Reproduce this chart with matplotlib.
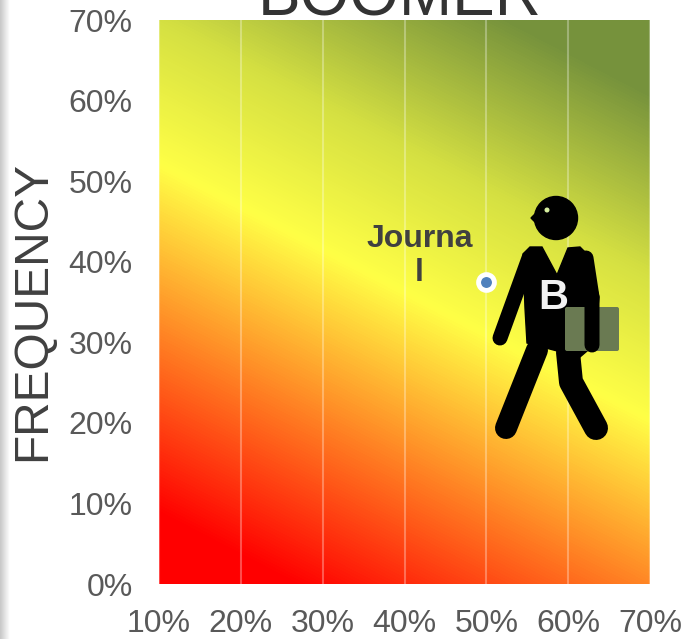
import numpy as np
import matplotlib.pyplot as plt
from matplotlib.colors import LinearSegmentedColormap
from matplotlib.patches import Circle, Polygon, FancyBboxPatch
from matplotlib.lines import Line2D
from matplotlib.transforms import Affine2D

plt.rcParams['font.family'] = ['Liberation Sans', 'DejaVu Sans']

# chart values
x_ticks = [10, 20, 30, 40, 50, 60, 70]
y_ticks = [0, 10, 20, 30, 40, 50, 60, 70]
point_x = [50]
point_y = [37.5]
point_label = "Journa\nl"
title = "BOOMER"
y_title = "FREQUENCY"

W, H = 683, 639
fig = plt.figure(figsize=(W / 100, H / 100), dpi=100)

# grey shadow on the left edge
strip = fig.add_axes([0, 0, 10 / W, 1])
strip.imshow(np.linspace(0.78, 1, 32).reshape(1, -1), aspect='auto', cmap='gray', vmin=0, vmax=1)
strip.axis('off')

ax = fig.add_axes([159 / W, 1 - 584 / H, 491 / W, 564 / H])

# diagonal background, red bottom left to green top right
cmap = LinearSegmentedColormap.from_list('heat', [
    (0.0, '#ff0000'), (0.086, '#ff0000'), (0.512, '#ffff46'),
    (0.69, '#d5e042'), (0.912, '#76923c'), (1.0, '#76923c')])
xx, yy = np.meshgrid(np.arange(491), np.arange(564))
t = (0.52 * xx + (564 - yy)) / (0.52 * 491 + 564)
ax.imshow(t, cmap=cmap, vmin=0, vmax=1, aspect='auto', origin='upper',
          extent=[10, 70, 0, 70], zorder=0)

ax.set_xlim(10, 70)
ax.set_ylim(0, 70)
ax.set_xticks(x_ticks)
ax.set_yticks(y_ticks)
ax.set_xticklabels([f"{v}%" for v in x_ticks])
ax.set_yticklabels([f"{v}%" for v in y_ticks])
ax.tick_params(length=0, labelsize=23, labelcolor='#595959', pad=19, axis='y')
ax.tick_params(length=0, labelsize=23, labelcolor='#595959', pad=18, axis='x')
ax.grid(axis='x', color='white', alpha=0.3, lw=1.5)
ax.set_axisbelow(False)
for s in ax.spines.values():
    s.set_visible(False)

# person, drawn in image pixels
px = Affine2D().scale(1, -1).translate(0, H)


def limb(xs, ys, w, z=3):
    fig.add_artist(Line2D(xs, ys, color='black', lw=w * 0.72, solid_capstyle='round',
                          solid_joinstyle='round', transform=px, zorder=z))


fig.add_artist(Circle((556, 218), 21.5, color='black', transform=px, zorder=3))
fig.add_artist(Polygon([(537, 212), (531, 218), (537, 224)], color='black', transform=px, zorder=3))
fig.add_artist(Circle((547, 210), 1.8, color='#d8f0a0', transform=px, zorder=4))
fig.add_artist(Polygon([(523, 254), (530, 247), (542, 247), (557, 275), (568, 248), (580, 247),
                        (587, 254), (599, 297), (594, 345), (580, 357), (527, 343), (525, 308)],
                       color='black', transform=px, zorder=3))
limb([529, 500], [258, 338], 15)
limb([537, 506], [350, 428], 22)
limb([568, 571, 596], [352, 382, 428], 24)
fig.add_artist(FancyBboxPatch((567, 309), 50, 40, boxstyle='round,pad=2', fc='#6a7a52', ec='none',
                              transform=px, zorder=4))
limb([586, 592, 592], [258, 297, 345], 15, z=5)
fig.text(553, 298, "B", transform=px, fontsize=30, fontweight='bold', color='#f2f2f2',
         ha='center', va='center', zorder=6)

# the single point
ax.scatter(point_x, point_y, s=130, color='#4f81bd', edgecolor='white', linewidth=3.5,
           zorder=7, clip_on=False)
ax.annotate(point_label, (point_x[0], point_y[0]), xytext=(-67, 26), textcoords='offset pixels',
            fontsize=23, fontweight='bold', color='#404040', ha='center', va='center',
            linespacing=1.2, zorder=7)

fig.text(400, 15, title, transform=px, fontsize=46, color='#333333', ha='center', va='baseline')
fig.text(33, 311, y_title, transform=px, fontsize=34.5, color='#404040', rotation=90,
         ha='center', va='center')

fig.savefig("out.png", dpi=100)
